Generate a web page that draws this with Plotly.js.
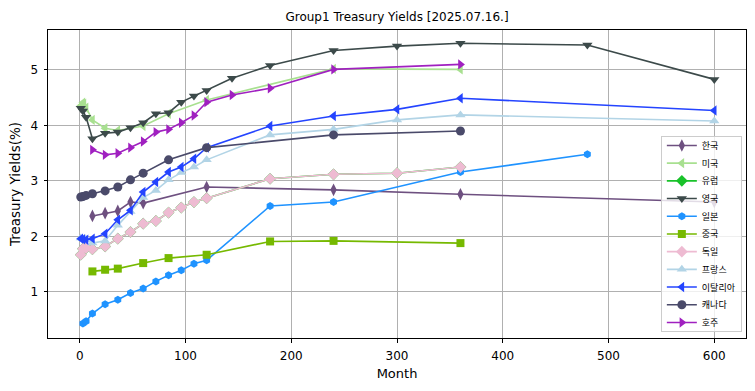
<!DOCTYPE html>
<html>
<head>
<meta charset="utf-8">
<script src="https://cdn.plot.ly/plotly-3.0.1.min.js"></script>
<style>html,body{margin:0;padding:0;background:#fff;}#chart{width:755px;height:391px;}</style>
</head>
<body>
<div id="chart"></div>
<script>
// Data (months to maturity, yields %)
const names = ["한국","미국","유럽","영국","일본","중국","독일","프랑스","이탈리아","캐나다","호주"];

const kr_m = [12,24,36,48,60,120,240,360,600];
const kr_y = [2.37,2.42,2.46,2.62,2.60,2.89,2.84,2.76,2.62];

const us_m = [1,2,3,4,6,12,24,36,60,84,120,240,360];
const us_y = [4.35,4.37,4.41,4.39,4.32,4.10,3.95,3.91,3.99,4.21,4.46,5.02,5.01];

const eu_m = [1,3,6,12,24,36,48,60,72,84,96,108,120,180,240,300,360];
const eu_y = [1.67,1.78,1.79,1.77,1.82,1.96,2.08,2.23,2.28,2.43,2.52,2.62,2.69,3.04,3.12,3.14,3.25];

const uk_m = [1,3,6,12,24,36,48,60,72,84,96,108,120,144,180,240,300,360,480,600];
const uk_y = [4.31,4.26,4.15,3.76,3.86,3.88,3.96,4.05,4.21,4.23,4.42,4.53,4.63,4.85,5.08,5.35,5.43,5.48,5.45,4.83];

const jp_m = [3,6,12,24,36,48,60,72,84,96,108,120,180,240,360,480];
const jp_y = [0.43,0.47,0.61,0.78,0.86,0.98,1.06,1.19,1.30,1.39,1.51,1.57,2.55,2.62,3.16,3.48];

const cn_m = [12,24,36,60,84,120,180,240,360];
const cn_y = [1.37,1.40,1.42,1.52,1.61,1.67,1.91,1.92,1.88];

const de_m = [1,3,6,12,24,36,48,60,72,84,96,108,120,180,240,300,360];
const de_y = [1.67,1.78,1.79,1.77,1.82,1.96,2.08,2.23,2.28,2.43,2.52,2.62,2.69,3.04,3.12,3.14,3.25];

const fr_m = [1,3,6,12,24,36,48,60,72,84,96,108,120,180,240,300,360,600];
const fr_y = [1.97,1.96,1.95,1.88,1.92,2.20,2.45,2.70,2.83,3.02,3.15,3.25,3.38,3.83,3.93,4.10,4.19,4.08];

const it_m = [1,3,6,12,24,36,48,60,72,84,96,108,120,180,240,300,360,600];
const it_y = [1.96,1.95,1.94,1.96,2.05,2.30,2.47,2.80,2.98,3.16,3.25,3.40,3.60,3.99,4.17,4.29,4.49,4.27];

const ca_m = [1,3,6,12,24,36,48,60,84,120,240,360];
const ca_y = [2.71,2.72,2.74,2.77,2.82,2.89,3.02,3.14,3.38,3.60,3.83,3.90];

const au_m = [12,24,36,48,60,72,84,96,108,120,144,180,240,360];
const au_y = [3.56,3.47,3.50,3.60,3.71,3.88,3.93,4.05,4.18,4.42,4.55,4.67,5.01,5.10];

const xTicks = [0,100,200,300,400,500,600];
const yTicks = [1,2,3,4,5];

const series = [
  {m: kr_m, y: kr_y, color: "#6e5080", symbol: "diamond-tall", size: 9},
  {m: us_m, y: us_y, color: "#a8e090", symbol: "triangle-left", size: 9},
  {m: eu_m, y: eu_y, color: "#19c22a", symbol: "diamond", size: 9},
  {m: uk_m, y: uk_y, color: "#3c4a4a", symbol: "triangle-down", size: 9},
  {m: jp_m, y: jp_y, color: "#1f93ff", symbol: "hexagon", size: 8},
  {m: cn_m, y: cn_y, color: "#76b900", symbol: "square", size: 8},
  {m: de_m, y: de_y, color: "#eebbd2", symbol: "diamond", size: 9},
  {m: fr_m, y: fr_y, color: "#b2d4e6", symbol: "triangle-up", size: 9},
  {m: it_m, y: it_y, color: "#2444ff", symbol: "triangle-left", size: 9},
  {m: ca_m, y: ca_y, color: "#4a4a6a", symbol: "circle", size: 9},
  {m: au_m, y: au_y, color: "#a020c0", symbol: "triangle-right", size: 9}
];

const traces = series.map((s, i) => ({
  type: "scatter",
  mode: "lines+markers",
  name: names[i],
  x: s.m,
  y: s.y,
  line: {color: s.color, width: 1.6},
  marker: {color: s.color, symbol: s.symbol, size: s.size, line: {width: 0}}
}));

const font = "DejaVu Sans, sans-serif";
const layout = {
  width: 755, height: 391,
  margin: {l: 48, r: 9, t: 30, b: 53},
  paper_bgcolor: "#ffffff",
  plot_bgcolor: "#ffffff",
  font: {family: font, size: 12, color: "#000"},
  title: {text: "Group1 Treasury Yields [2025.07.16.]", x: 0.5, xref: "paper", y: 0.956, yref: "container", yanchor: "middle", font: {family: font, size: 12, color: "#000"}},
  xaxis: {
    range: [-30, 630], tickvals: xTicks, ticktext: xTicks.map(String),
    showgrid: true, gridcolor: "#b0b0b0", gridwidth: 1,
    showline: true, linecolor: "#000", linewidth: 1, mirror: true,
    ticks: "outside", ticklen: 3.5, tickcolor: "#000", zeroline: false,
    ticklabelstandoff: 3,
    tickfont: {family: font, size: 12},
    title: {text: "Month", font: {family: font, size: 13}, standoff: 6}
  },
  yaxis: {
    range: [0.17, 5.72], tickvals: yTicks, ticktext: yTicks.map(String),
    showgrid: true, gridcolor: "#b0b0b0", gridwidth: 1,
    showline: true, linecolor: "#000", linewidth: 1, mirror: true,
    ticks: "outside", ticklen: 3.5, tickcolor: "#000", zeroline: false,
    ticklabelstandoff: 3,
    tickfont: {family: font, size: 12},
    title: {text: "Treasury Yields(%)", font: {family: font, size: 13.5}, standoff: 6}
  },
  legend: {
    x: 0.878, y: 0.656, xanchor: "left", yanchor: "top",
    bgcolor: "rgba(255,255,255,0.8)", bordercolor: "#cccccc", borderwidth: 1,
    font: {family: "Noto Sans CJK KR, sans-serif", size: 9, color: "#000"},
    tracegroupgap: 0
  },
  showlegend: true
};

const gd = document.getElementById("chart");
const STEP = 17.7, FIRST = 9.5, BOXH = 195;
function tightenLegend() {
  const items = Array.from(gd.querySelectorAll("g.legend g.traces"));
  if (items.length < 2) return;
  items.forEach((t, i) => {
    const s = t.getAttribute("transform") || "";
    const m = /translate\(\s*([-\d.e]+)/.exec(s);
    const x = m ? parseFloat(m[1]) : 0;
    t.setAttribute("transform", "translate(" + x + "," + (FIRST + i * STEP) + ")");
  });
  gd.querySelectorAll("g.legend rect.bg").forEach(bg => bg.setAttribute("height", BOXH));
}
Plotly.newPlot(gd, traces, layout, {displayModeBar: false, staticPlot: true}).then(() => {
  tightenLegend();
  gd.on("plotly_afterplot", tightenLegend);
});
</script>
</body>
</html>
